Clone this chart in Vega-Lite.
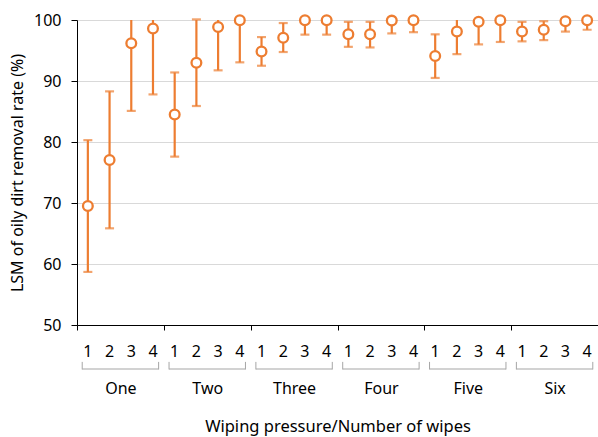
{
  "$schema": "https://vega.github.io/schema/vega-lite/v6.json",
  "width": 521,
  "height": 305,
  "autosize": {"type": "none"},
  "padding": {"left": 77, "top": 20, "right": 0, "bottom": 112},
  "background": "white",
  "config": {
    "view": {"stroke": null},
    "font": "Noto Sans",
    "axis": {"labelFont": "Noto Sans", "titleFont": "Noto Sans", "labelColor": "#000000", "titleColor": "#000000", "titleFontWeight": "normal", "domainColor": "#000000", "tickColor": "#000000"}
  },
  "data": {
    "values": [
      {"pressure": "One", "wipes": 1, "lsm": 69.5, "lo": 58.7, "hi": 80.3},
      {"pressure": "One", "wipes": 2, "lsm": 77.05, "lo": 65.85, "hi": 88.3},
      {"pressure": "One", "wipes": 3, "lsm": 96.2, "lo": 85.1, "hi": 107.3},
      {"pressure": "One", "wipes": 4, "lsm": 98.6, "lo": 87.8, "hi": 109.4},
      {"pressure": "Two", "wipes": 1, "lsm": 84.5, "lo": 77.6, "hi": 91.4},
      {"pressure": "Two", "wipes": 2, "lsm": 93.0, "lo": 85.9, "hi": 100.1},
      {"pressure": "Two", "wipes": 3, "lsm": 98.85, "lo": 91.75, "hi": 105.95},
      {"pressure": "Two", "wipes": 4, "lsm": 99.95, "lo": 93.06, "hi": 106.8},
      {"pressure": "Three", "wipes": 1, "lsm": 94.85, "lo": 92.5, "hi": 97.2},
      {"pressure": "Three", "wipes": 2, "lsm": 97.1, "lo": 94.75, "hi": 99.5},
      {"pressure": "Three", "wipes": 3, "lsm": 99.95, "lo": 97.6, "hi": 102.3},
      {"pressure": "Three", "wipes": 4, "lsm": 99.95, "lo": 97.6, "hi": 102.3},
      {"pressure": "Four", "wipes": 1, "lsm": 97.65, "lo": 95.6, "hi": 99.7},
      {"pressure": "Four", "wipes": 2, "lsm": 97.65, "lo": 95.5, "hi": 99.7},
      {"pressure": "Four", "wipes": 3, "lsm": 99.9, "lo": 97.8, "hi": 102.0},
      {"pressure": "Four", "wipes": 4, "lsm": 99.95, "lo": 98.0, "hi": 101.9},
      {"pressure": "Five", "wipes": 1, "lsm": 94.1, "lo": 90.5, "hi": 97.65},
      {"pressure": "Five", "wipes": 2, "lsm": 98.1, "lo": 94.4, "hi": 101.8},
      {"pressure": "Five", "wipes": 3, "lsm": 99.7, "lo": 96.0, "hi": 103.4},
      {"pressure": "Five", "wipes": 4, "lsm": 99.95, "lo": 96.4, "hi": 103.5},
      {"pressure": "Six", "wipes": 1, "lsm": 98.1, "lo": 96.5, "hi": 99.7},
      {"pressure": "Six", "wipes": 2, "lsm": 98.4, "lo": 96.7, "hi": 99.8},
      {"pressure": "Six", "wipes": 3, "lsm": 99.8, "lo": 98.1, "hi": 101.5},
      {"pressure": "Six", "wipes": 4, "lsm": 99.95, "lo": 98.4, "hi": 101.5}
    ]
  },
  "encoding": {
    "x": {
      "field": "pressure",
      "type": "nominal",
      "sort": ["One", "Two", "Three", "Four", "Five", "Six"],
      "scale": {"paddingInner": 0, "paddingOuter": 0},
      "axis": {
        "title": "Wiping pressure/Number of wipes",
        "titleFontSize": 16.5,
        "titlePadding": 22,
        "labelFontSize": 16,
        "labelAngle": 0,
        "labelPadding": 50,
        "tickBand": "extent",
        "tickSize": 5,
        "grid": false
      }
    }
  },
  "layer": [
    {
      "mark": {"type": "rule", "color": "#ED7D31", "strokeWidth": 2.2, "clip": true},
      "encoding": {
        "xOffset": {"field": "wipes", "type": "ordinal", "scale": {"paddingInner": 0, "paddingOuter": 0}},
        "y": {
          "field": "lo",
          "type": "quantitative",
          "scale": {"domain": [50, 100], "nice": false, "zero": false},
          "axis": {
            "title": "LSM of oily dirt removal rate (%)",
            "titleFontSize": 16,
            "titlePadding": 8,
            "labelFontSize": 16,
            "labelPadding": 10,
            "tickSize": 6,
            "values": [50, 60, 70, 80, 90, 100],
            "gridColor": "#D9D9D9",
            "gridWidth": 1
          }
        },
        "y2": {"field": "hi"}
      }
    },
    {
      "mark": {"type": "tick", "color": "#ED7D31", "thickness": 2.2, "size": 9},
      "encoding": {
        "xOffset": {"field": "wipes", "type": "ordinal"},
        "y": {"field": "lo", "type": "quantitative"}
      }
    },
    {
      "transform": [{"filter": "datum.hi <= 100.2"}],
      "mark": {"type": "tick", "color": "#ED7D31", "thickness": 2.2, "size": 9},
      "encoding": {
        "xOffset": {"field": "wipes", "type": "ordinal"},
        "y": {"field": "hi", "type": "quantitative"}
      }
    },
    {
      "mark": {"type": "point", "shape": "circle", "filled": true, "fill": "white", "stroke": "#ED7D31", "strokeWidth": 2.3, "size": 95, "opacity": 1},
      "encoding": {
        "xOffset": {"field": "wipes", "type": "ordinal"},
        "y": {"field": "lsm", "type": "quantitative"}
      }
    },
    {
      "mark": {"type": "text", "fontSize": 16, "color": "#000000", "baseline": "middle", "align": "center"},
      "encoding": {
        "xOffset": {"field": "wipes", "type": "ordinal"},
        "y": {"datum": 45.6},
        "text": {"field": "wipes"}
      }
    },
    {
      "transform": [{"filter": "datum.wipes == 1"}],
      "mark": {"type": "bar", "color": "#A6A6A6", "width": {"band": 0.88}},
      "encoding": {
        "y": {"datum": 42.71},
        "y2": {"datum": 42.87}
      }
    },
    {
      "transform": [{"filter": "datum.wipes == 1"}],
      "mark": {"type": "rule", "color": "#A6A6A6", "strokeWidth": 1},
      "encoding": {
        "x": {"field": "pressure", "type": "nominal", "sort": ["One", "Two", "Three", "Four", "Five", "Six"], "bandPosition": 0.06},
        "y": {"datum": 43.95},
        "y2": {"datum": 42.71}
      }
    },
    {
      "transform": [{"filter": "datum.wipes == 1"}],
      "mark": {"type": "rule", "color": "#A6A6A6", "strokeWidth": 1},
      "encoding": {
        "x": {"field": "pressure", "type": "nominal", "sort": ["One", "Two", "Three", "Four", "Five", "Six"], "bandPosition": 0.94},
        "y": {"datum": 43.95},
        "y2": {"datum": 42.71}
      }
    }
  ]
}
